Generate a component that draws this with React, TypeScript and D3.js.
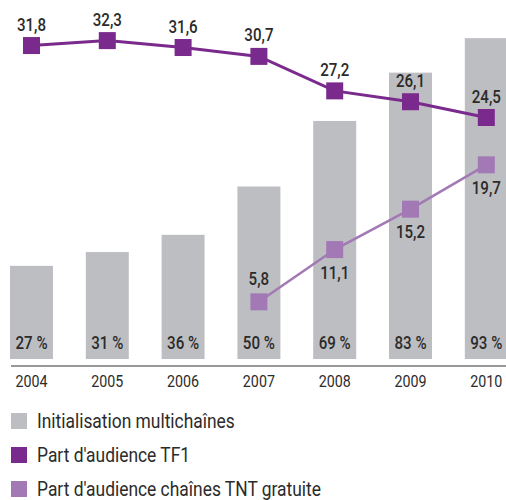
import React, { useEffect, useRef } from 'react';
import * as d3 from 'd3';

const years = ['2004', '2005', '2006', '2007', '2008', '2009', '2010'];
const multichaines = [27, 31, 36, 50, 69, 83, 93];
const tf1 = [31.8, 32.3, 31.6, 30.7, 27.2, 26.1, 24.5];
const tntYears = ['2007', '2008', '2009', '2010'];
const tnt = [5.8, 11.1, 15.2, 19.7];
const legendLabels = ['Initialisation multichaînes', "Part d'audience TF1", "Part d'audience chaînes TNT gratuite"];

const width = 506;
const height = 500;
const font = 'Roboto, "Liberation Sans", sans-serif';
const barColor = '#bdbec2';
const tf1Color = '#7a2a8c';
const tntColor = '#a279b5';
const textColor = '#2b2b2b';
const narrow = 0.84; // squeeze text horizontally, condensed look

const fmt = (v: number) => v.toFixed(1).replace('.', ',');

export default function App() {
  const ref = useRef<SVGSVGElement>(null);

  useEffect(() => {
    const svg = d3.select(ref.current);
    svg.selectAll('*').remove();

    // scales
    const x = d3.scaleBand().domain(years).range([10, 507.8]).paddingInner(0.433).paddingOuter(0);
    const yBar = d3.scaleLinear().domain([0, 100]).range([359, 14]);
    const yLine = d3.scaleLinear().domain([0, 35]).range([359, 14]);
    const cx = (d: string) => (x(d) as number) + x.bandwidth() / 2;

    // bars
    svg.append('g')
      .selectAll('rect')
      .data(years)
      .join('rect')
      .attr('x', (d) => x(d) as number)
      .attr('y', (d, i) => yBar(multichaines[i]))
      .attr('width', x.bandwidth())
      .attr('height', (d, i) => yBar(0) - yBar(multichaines[i]))
      .attr('fill', barColor);

    svg.append('g')
      .selectAll('text')
      .data(years)
      .join('text')
      .attr('transform', (d) => `translate(${cx(d)},349) scale(${narrow},1)`)
      .attr('text-anchor', 'middle')
      .attr('font-size', 18)
      .attr('font-weight', 500)
      .attr('fill', textColor)
      .text((d, i) => `${multichaines[i]} %`);

    // axis
    const axis = svg.append('g')
      .attr('transform', `translate(0,366)`)
      .call(d3.axisBottom(x).tickSize(0).tickPadding(9));
    axis.select('.domain').attr('d', 'M11,0H506').attr('stroke', '#333').attr('stroke-width', 1.2);
    axis.selectAll('.tick text')
      .attr('font-family', font)
      .attr('font-size', 17)
      .attr('fill', textColor)
      .attr('transform', `scale(${narrow},1)`);

    // TF1 line
    const sq = 17;
    svg.append('path')
      .datum(years)
      .attr('fill', 'none')
      .attr('stroke', tf1Color)
      .attr('stroke-width', 3)
      .attr('d', d3.line<string>().x(cx).y((d, i) => yLine(tf1[i])));
    svg.append('g')
      .selectAll('rect')
      .data(years)
      .join('rect')
      .attr('x', (d) => cx(d) - sq / 2)
      .attr('y', (d, i) => yLine(tf1[i]) - sq / 2)
      .attr('width', sq)
      .attr('height', sq)
      .attr('fill', tf1Color);
    svg.append('g')
      .selectAll('text')
      .data(years)
      .join('text')
      .attr('transform', (d, i) => `translate(${cx(d)},${yLine(tf1[i]) - 15}) scale(${narrow},1)`)
      .attr('text-anchor', 'middle')
      .attr('font-size', 18)
      .attr('font-weight', 500)
      .attr('fill', textColor)
      .text((d, i) => fmt(tf1[i]));

    // TNT line
    svg.append('path')
      .datum(tntYears)
      .attr('fill', 'none')
      .attr('stroke', tntColor)
      .attr('stroke-width', 2.5)
      .attr('d', d3.line<string>().x(cx).y((d, i) => yLine(tnt[i])));
    svg.append('g')
      .selectAll('rect')
      .data(tntYears)
      .join('rect')
      .attr('x', (d) => cx(d) - sq / 2)
      .attr('y', (d, i) => yLine(tnt[i]) - sq / 2)
      .attr('width', sq)
      .attr('height', sq)
      .attr('fill', tntColor);
    svg.append('g')
      .selectAll('text')
      .data(tntYears)
      .join('text')
      .attr('transform', (d, i) => `translate(${cx(d)},${yLine(tnt[i]) + (i === 0 ? -17 : 29)}) scale(${narrow},1)`)
      .attr('text-anchor', 'middle')
      .attr('font-size', 18)
      .attr('font-weight', 500)
      .attr('fill', textColor)
      .text((d, i) => fmt(tnt[i]));

    // legend
    const legendColors = [barColor, tf1Color, tntColor];
    const legend = svg.append('g')
      .selectAll('g')
      .data(legendLabels)
      .join('g')
      .attr('transform', (d, i) => `translate(11,${421 + i * 34})`);
    legend.append('rect')
      .attr('x', 0)
      .attr('y', -8)
      .attr('width', 16)
      .attr('height', 16)
      .attr('fill', (d, i) => legendColors[i]);
    legend.append('text')
      .attr('transform', `translate(26,6.5) scale(0.87,1)`)
      .attr('font-size', 20)
      .attr('fill', textColor)
      .text((d) => d);
  }, []);

  return (
    <svg
      ref={ref}
      width={width}
      height={height}
      style={{ position: 'absolute', left: 0, top: 0, background: '#fff', fontFamily: font }}
    />
  );
}
